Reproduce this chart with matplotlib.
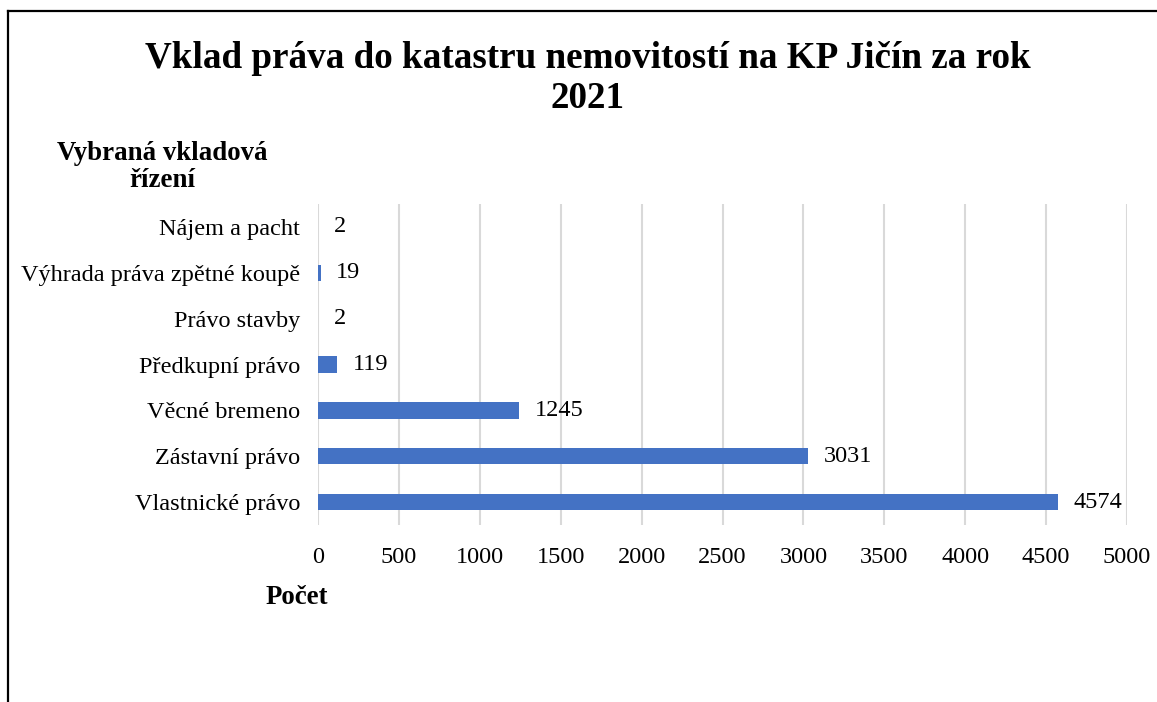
import matplotlib.pyplot as plt
from matplotlib.lines import Line2D

# data (bottom to top)
kategorie = ["Vlastnické právo", "Zástavní právo", "Věcné bremeno", "Předkupní právo",
             "Právo stavby", "Výhrada práva zpětné koupě", "Nájem a pacht"]
pocty = [4574, 3031, 1245, 119, 2, 19, 2]
x_ticks = [0, 500, 1000, 1500, 2000, 2500, 3000, 3500, 4000, 4500, 5000]

plt.rcParams['font.family'] = ['Liberation Serif', 'DejaVu Serif']

fig = plt.figure(figsize=(11.57, 7.02), dpi=100)
ax = fig.add_axes([318/1157, 1-525/702, (1127-318)/1157, (525-204)/702])

pos = list(range(len(kategorie)))
ax.barh(pos, pocty, height=0.36, color="#4472C4", zorder=3)

for p, v in zip(pos, pocty):
    ax.annotate(str(v), xy=(v, p), xytext=(11, 0), textcoords="offset points",
                va="center", ha="left", fontsize=17.5, color="#000000")

ax.set_xlim(0, 5000)
ax.set_ylim(-0.5, len(kategorie) - 0.5)
ax.set_xticks(x_ticks)
ax.set_xticklabels([str(t) for t in x_ticks], fontsize=17.5)
ax.set_yticks(pos)
ax.set_yticklabels(kategorie, fontsize=17.5)
ax.tick_params(axis="x", length=0, pad=16)
ax.tick_params(axis="y", length=0, pad=13)
ax.grid(axis="x", color="#D9D9D9", linewidth=1.5, zorder=0)
for s in ax.spines.values():
    s.set_visible(False)

fig.text(588/1157, 1-58/702, "Vklad práva do katastru nemovitostí na KP Jičín za rok",
         ha="center", va="center", fontsize=26.7, fontweight="bold")
fig.text(588/1157, 1-98/702, "2021", ha="center", va="center", fontsize=26.7, fontweight="bold")
fig.text(162/1157, 1-167/702, "Vybraná vkladová\nřízení", ha="center", va="center",
         fontsize=19.4, fontweight="bold", linespacing=1.1)
fig.text(297/1157, 1-598/702, "Počet", ha="center", va="center", fontsize=19.4, fontweight="bold")

# chart border (only left and top visible in the crop)
fig.add_artist(Line2D([8/1157, 8/1157], [0, 1-11/702], transform=fig.transFigure,
                      color="black", linewidth=1.6))
fig.add_artist(Line2D([8/1157, 1], [1-11/702, 1-11/702], transform=fig.transFigure,
                      color="black", linewidth=1.6))

fig.savefig("out.png", dpi=100)
